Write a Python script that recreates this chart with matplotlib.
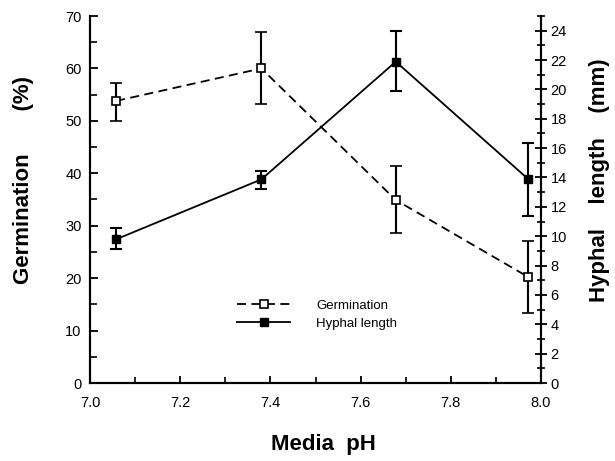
import matplotlib.pyplot as plt
from matplotlib.lines import Line2D
from matplotlib.ticker import MultipleLocator

plt.rcParams["font.family"] = ["Liberation Sans", "DejaVu Sans"]

# data
ph = [7.058, 7.38, 7.678, 7.972]
germination = [53.8, 60.0, 34.9, 20.2]
germination_err_hi = [57.2, 67.0, 41.4, 27.1]
germination_err_lo = [50.0, 53.3, 28.55, 13.4]
hyphal = [9.79, 13.87, 21.89, 13.88]
hyphal_err_hi = [10.56, 14.46, 23.98, 16.33]
hyphal_err_lo = [9.1, 13.24, 19.89, 11.4]

g_err = [[g - lo for g, lo in zip(germination, germination_err_lo)],
         [hi - g for g, hi in zip(germination, germination_err_hi)]]
h_err = [[h - lo for h, lo in zip(hyphal, hyphal_err_lo)],
         [hi - h for h, hi in zip(hyphal, hyphal_err_hi)]]

fig = plt.figure(figsize=(6.15, 4.61), dpi=100)
ax = fig.add_axes([90 / 615, 1 - 383 / 461, 451 / 615, 367 / 461])
ax2 = ax.twinx()

g_style = dict(color="black", ls=(0, (5, 3)), lw=1.3, marker="s", ms=5.5,
               mfc="white", mec="black", mew=1.2)
h_style = dict(color="black", ls="-", lw=1.3, marker="s", ms=6,
               mfc="black", mec="black")

ax.errorbar(ph, germination, yerr=g_err, capsize=4, elinewidth=1.5,
            capthick=1.5, ecolor="black", **g_style)
ax2.errorbar(ph, hyphal, yerr=h_err, capsize=4, elinewidth=1.5,
             capthick=1.5, ecolor="black", **h_style)

ax.set_xlim(7.0, 8.0)
ax.set_ylim(0, 70)
ax2.set_ylim(0, 25)
ax.xaxis.set_major_locator(MultipleLocator(0.2))
ax.xaxis.set_minor_locator(MultipleLocator(0.1))
ax.yaxis.set_major_locator(MultipleLocator(10))
ax.yaxis.set_minor_locator(MultipleLocator(5))
ax2.yaxis.set_major_locator(MultipleLocator(2))
ax2.yaxis.set_minor_locator(MultipleLocator(1))
ax.xaxis.set_major_formatter(lambda v, p: f"{v:.1f}")

for a in (ax, ax2):
    for s in a.spines.values():
        s.set_linewidth(1.5)
    a.spines["top"].set_visible(False)

ax.tick_params(axis="x", direction="in", length=5, width=1.3, labelsize=10.5, pad=9)
ax.tick_params(axis="x", which="minor", direction="in", length=4, width=1.2)
ax.tick_params(axis="y", direction="in", length=6, width=1.3, labelsize=10.5, pad=6)
ax.tick_params(axis="y", which="minor", direction="in", length=5, width=1.2)
ax2.tick_params(axis="y", direction="inout", length=8, width=1.3, labelsize=10.5, pad=3)
ax2.tick_params(axis="y", which="minor", direction="inout", length=6, width=1.2)

# axis titles placed where the reference has them
fig.text(323 / 615, 1 - 444 / 461, "Media  pH", fontsize=16,
         fontweight="bold", ha="center", va="center")
fig.text(24 / 615, 1 - 180 / 461, "Germination       (%)", fontsize=16,
         fontweight="bold", ha="center", va="center", rotation=90)
fig.text(599 / 615, 1 - 180 / 461, "Hyphal    length    (mm)", fontsize=16,
         fontweight="bold", ha="center", va="center", rotation=90)

handles = [Line2D([], [], **g_style), Line2D([], [], **h_style)]
ax.legend(handles, ["Germination", "Hyphal length"], loc="upper left",
          bbox_to_anchor=(0.3, 0.26), frameon=False, fontsize=9.5,
          handlelength=4.0, handletextpad=2.0, labelspacing=0.45)

fig.savefig("out.png", dpi=100)
